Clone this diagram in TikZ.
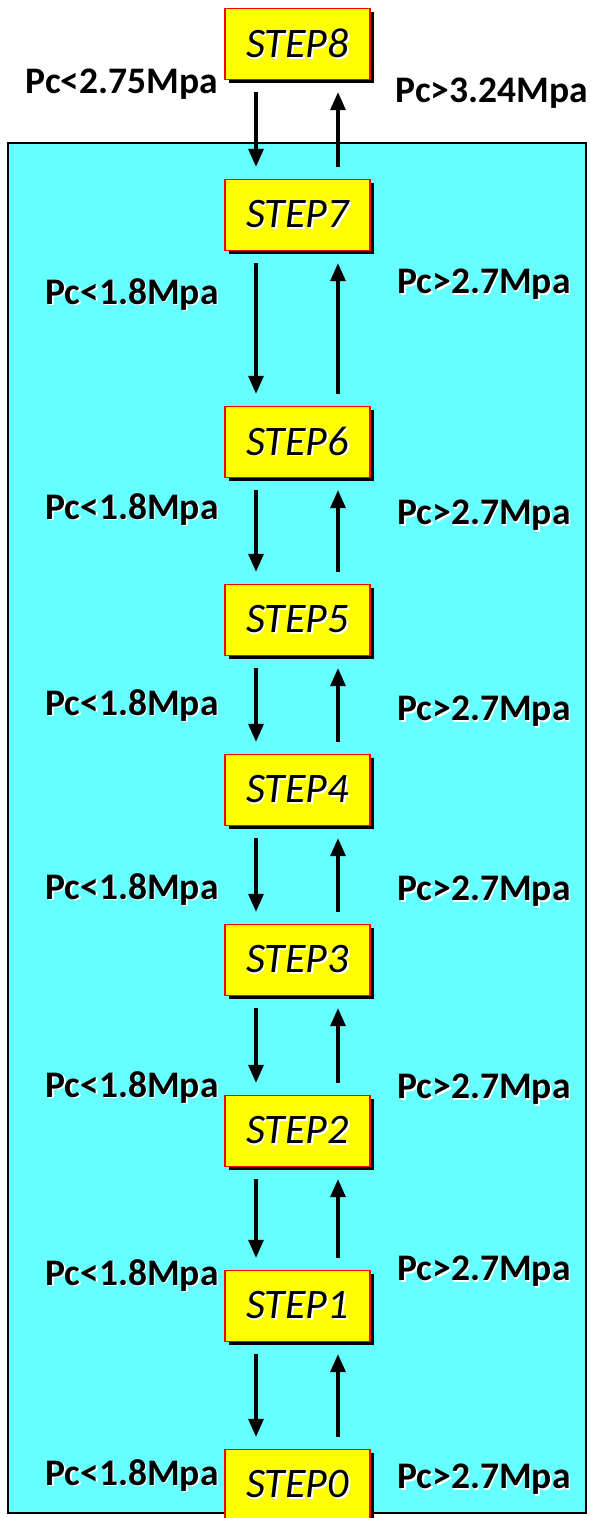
\documentclass[tikz,border=0pt]{standalone}
\usepackage{fontspec}
\setmainfont{Carlito}
\usetikzlibrary{shadows,arrows.meta}
\definecolor{bgcyan}{HTML}{66FFFF}
\definecolor{stepyellow}{HTML}{FFFF00}
\definecolor{stepred}{HTML}{FF0000}
\newcommand\shtext[1]{\makebox[0pt][l]{\hspace{1.8pt}\raisebox{-1.8pt}{\color{white}#1}}#1}
\begin{document}
\begin{tikzpicture}[x=1pt,y=-1pt,
  stepbox/.style={minimum width=145pt, minimum height=71pt, inner sep=0pt,
    fill=stepyellow, draw=stepred, line width=1.3pt,
    drop shadow={shadow xshift=3.5pt, shadow yshift=-3.5pt, fill=black, opacity=1},
    font=\fontsize{42}{44}\selectfont\itshape},
  cond/.style={font=\fontsize{37.5}{40}\selectfont\bfseries, inner sep=0pt},
  flow/.style={line width=3.2pt, -{Triangle[length=18pt,width=15pt]}},
]
\useasboundingbox (0,0) rectangle (590,1518);
\draw[fill=bgcyan, line width=1.3pt] (8,143) rectangle (586,1513);

\node[stepbox] (s8) at (297.5,44) {\shtext{STEP8}};
\node[stepbox] (s7) at (297.5,215) {\shtext{STEP7}};
\node[stepbox] (s6) at (297.5,442) {\shtext{STEP6}};
\node[stepbox] (s5) at (297.5,620) {\shtext{STEP5}};
\node[stepbox] (s4) at (297.5,790) {\shtext{STEP4}};
\node[stepbox] (s3) at (297.5,960) {\shtext{STEP3}};
\node[stepbox] (s2) at (297.5,1131) {\shtext{STEP2}};
\node[stepbox] (s1) at (297.5,1306) {\shtext{STEP1}};
\node[stepbox] (s0) at (297.5,1485) {\shtext{STEP0}};

\foreach \a/\b in {s8/s7,s7/s6,s6/s5,s5/s4,s4/s3,s3/s2,s2/s1,s1/s0}{
  \draw[flow] ([xshift=-41.5pt,yshift=-12pt]\a.south) -- ([xshift=-41.5pt,yshift=12pt]\b.north);
  \draw[flow] ([xshift=40.5pt,yshift=12pt]\b.north) -- ([xshift=40.5pt,yshift=-12pt]\a.south);
}

\node[cond] (l8) at (122,85) {\shtext{Pc<2.75Mpa}};
\node[cond] (r8) at (492,94) {\shtext{Pc>3.24Mpa}};
\node[cond] (l7) at (132,295) {\shtext{Pc<1.8Mpa}};
\node[cond] (r7) at (484,285) {\shtext{Pc>2.7Mpa}};
\node[cond] (l6) at (132,510) {\shtext{Pc<1.8Mpa}};
\node[cond] (r6) at (484,516) {\shtext{Pc>2.7Mpa}};
\node[cond] (l5) at (132,706) {\shtext{Pc<1.8Mpa}};
\node[cond] (r5) at (484,712) {\shtext{Pc>2.7Mpa}};
\node[cond] (l4) at (132,890) {\shtext{Pc<1.8Mpa}};
\node[cond] (r4) at (484,892) {\shtext{Pc>2.7Mpa}};
\node[cond] (l3) at (132,1088) {\shtext{Pc<1.8Mpa}};
\node[cond] (r3) at (484,1090) {\shtext{Pc>2.7Mpa}};
\node[cond] (l2) at (132,1276) {\shtext{Pc<1.8Mpa}};
\node[cond] (r2) at (484,1272) {\shtext{Pc>2.7Mpa}};
\node[cond] (l1) at (132,1476) {\shtext{Pc<1.8Mpa}};
\node[cond] (r1) at (484,1480) {\shtext{Pc>2.7Mpa}};
\end{tikzpicture}
\end{document}
